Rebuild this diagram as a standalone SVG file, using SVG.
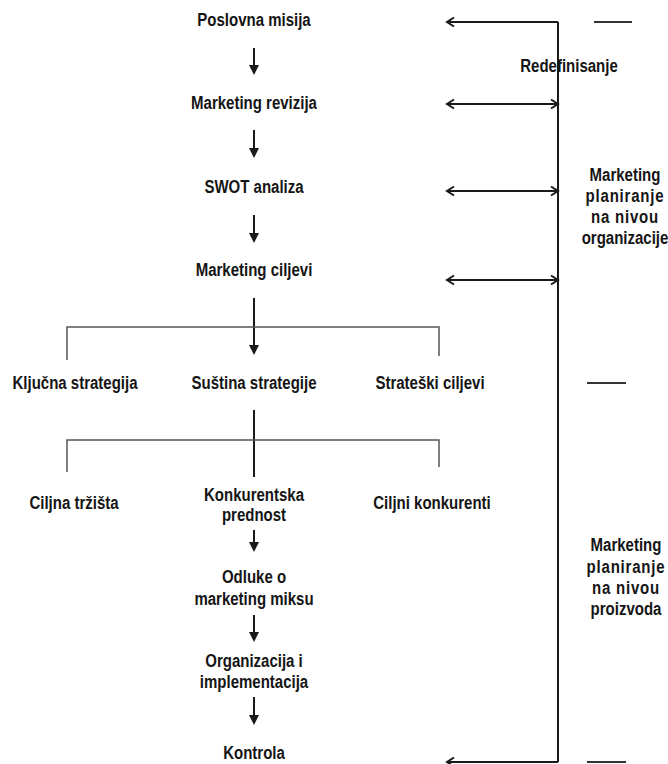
<svg xmlns="http://www.w3.org/2000/svg" width="668" height="764" viewBox="0 0 668 764">
<style>
text{font-family:"Liberation Sans",Arial,sans-serif;font-size:19px;font-weight:bold;fill:#151515;text-anchor:middle}
.dn{stroke:#1a1a1a;stroke-width:2;fill:none}
.br{stroke:#555;stroke-width:1.5;fill:none}
.rt{stroke:#1a1a1a;stroke-width:2;fill:none}
.ds{stroke:#333;stroke-width:2;fill:none}
</style>
<defs>
<marker id="tri" markerUnits="userSpaceOnUse" markerWidth="10" markerHeight="10" refX="0" refY="5" orient="auto" overflow="visible">
<path d="M0,0 L10,5 L0,10 z" fill="#1a1a1a"/>
</marker>
<marker id="chev" markerUnits="userSpaceOnUse" markerWidth="8" markerHeight="10" refX="7" refY="4.5" orient="auto-start-reverse" overflow="visible">
<path d="M0,0 L7,4.5 L0,9" fill="none" stroke="#1a1a1a" stroke-width="2"/>
</marker>
</defs>
<rect width="668" height="764" fill="#fff"/>
<g id="connectors">
<line class="dn" x1="254" y1="48" x2="254" y2="65" marker-end="url(#tri)"/>
<line class="dn" x1="254" y1="130" x2="254" y2="148" marker-end="url(#tri)"/>
<line class="dn" x1="254" y1="215" x2="254" y2="233" marker-end="url(#tri)"/>
<line class="dn" x1="254" y1="298" x2="254" y2="345" marker-end="url(#tri)"/>
<path class="br" d="M67,360 V327 H439 V356"/>
<line class="dn" x1="254" y1="410" x2="254" y2="477"/>
<path class="br" d="M67,472 V440 H439 V467"/>
<line class="dn" x1="254" y1="530" x2="254" y2="542" marker-end="url(#tri)"/>
<line class="dn" x1="254" y1="615" x2="254" y2="632" marker-end="url(#tri)"/>
<line class="dn" x1="254" y1="697" x2="254" y2="715" marker-end="url(#tri)"/>
<line class="rt" x1="558" y1="22" x2="558" y2="762"/>
<line class="rt" x1="558" y1="22" x2="447" y2="22" marker-end="url(#chev)"/>
<line class="rt" x1="447" y1="104" x2="558" y2="104" marker-start="url(#chev)" marker-end="url(#chev)"/>
<line class="rt" x1="447" y1="191" x2="558" y2="191" marker-start="url(#chev)" marker-end="url(#chev)"/>
<line class="rt" x1="447" y1="280" x2="558" y2="280" marker-start="url(#chev)" marker-end="url(#chev)"/>
<line class="rt" x1="558" y1="762" x2="447" y2="762" marker-end="url(#chev)"/>
<line class="ds" x1="594" y1="22" x2="632" y2="22"/>
<line class="ds" x1="587" y1="383" x2="626" y2="383"/>
<line class="ds" x1="587" y1="762" x2="626" y2="762"/>
</g>
<g id="n1" transform="translate(254,26) scale(0.79,1)"><text x="0" y="0">Poslovna misija</text></g>
<g id="n2" transform="translate(254,109) scale(0.79,1)"><text x="0" y="0">Marketing revizija</text></g>
<g id="n3" transform="translate(254,193) scale(0.79,1)"><text x="0" y="0">SWOT analiza</text></g>
<g id="n4" transform="translate(254,276) scale(0.79,1)"><text x="0" y="0">Marketing ciljevi</text></g>
<g id="n5" transform="translate(75,389) scale(0.79,1)"><text x="0" y="0">Ključna strategija</text></g>
<g id="n6" transform="translate(254,389) scale(0.79,1)"><text x="0" y="0">Suština strategije</text></g>
<g id="n7" transform="translate(430,389) scale(0.79,1)"><text x="0" y="0">Strateški ciljevi</text></g>
<g id="n8" transform="translate(74,509) scale(0.79,1)"><text x="0" y="0">Ciljna tržišta</text></g>
<g id="n9" transform="translate(254,501) scale(0.79,1)"><text x="0" y="0">Konkurentska</text><text x="0" y="20">prednost</text></g>
<g id="n10" transform="translate(432,509) scale(0.79,1)"><text x="0" y="0">Ciljni konkurenti</text></g>
<g id="n11" transform="translate(254,583) scale(0.79,1)"><text x="0" y="0">Odluke o</text><text x="0" y="22">marketing miksu</text></g>
<g id="n12" transform="translate(254,667) scale(0.79,1)"><text x="0" y="0">Organizacija i</text><text x="0" y="21">implementacija</text></g>
<g id="n13" transform="translate(254,759) scale(0.79,1)"><text x="0" y="0">Kontrola</text></g>
<g id="l1" transform="translate(569,72) scale(0.79,1)"><text x="0" y="0">Redefinisanje</text></g>
<g id="l2" transform="translate(625,181) scale(0.79,1)"><text x="0" y="0">Marketing</text><text x="0" y="21" letter-spacing="1">planiranje</text><text x="0" y="42" letter-spacing="1">na nivou</text><text x="0" y="63">organizacije</text></g>
<g id="l3" transform="translate(626,551) scale(0.79,1)"><text x="0" y="0">Marketing</text><text x="0" y="22" letter-spacing="1">planiranje</text><text x="0" y="43" letter-spacing="1">na nivou</text><text x="0" y="64">proizvoda</text></g>
</svg>
